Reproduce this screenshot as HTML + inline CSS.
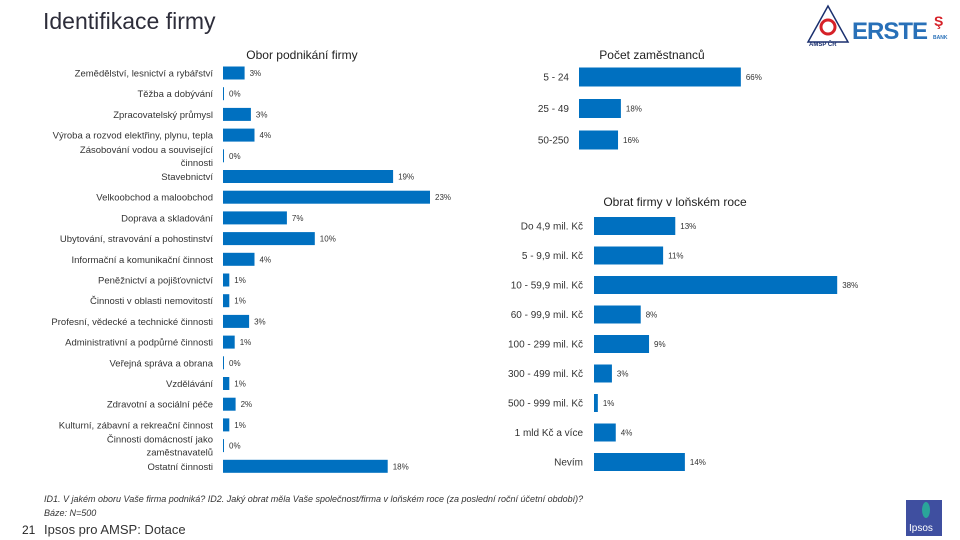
<!DOCTYPE html>
<html><head><meta charset="utf-8"><style>
body{margin:0;background:#fff;width:960px;height:540px;overflow:hidden;font-family:"Liberation Sans",sans-serif}
svg{position:absolute;left:0;top:0}
</style></head><body>
<svg id="s" width="960" height="540" xmlns="http://www.w3.org/2000/svg">
<text x="43" y="29" font-size="23" fill="#2d2d3a">Identifikace firmy</text>
<g>
<polygon points="828,6 808,42 848,42" fill="none" stroke="#1a2f6e" stroke-width="1.5"/>
<circle cx="828" cy="27" r="7" fill="none" stroke="#d62128" stroke-width="3"/>
<text x="809" y="46" font-size="6" font-weight="bold" fill="#1a2f6e">AMSP ČR</text>
<text x="852" y="39" font-size="24" font-weight="bold" fill="#2870b8" letter-spacing="-1">ERSTE</text>
<text x="934" y="26" font-size="14" font-weight="bold" fill="#d62128">Ş</text>
<text x="933" y="39" font-size="5" font-weight="bold" fill="#2870b8">BANK</text>
</g>
<text x="302" y="59" font-size="12" text-anchor="middle" fill="#222">Obor podnikání firmy</text>
<text x="652" y="59" font-size="12" text-anchor="middle" fill="#222">Počet zaměstnanců</text>
<text x="675" y="206" font-size="12" text-anchor="middle" fill="#222">Obrat firmy v loňském roce</text>
<g id="c1"></g>
<g id="c2"></g>
<g id="c3"></g>
<text x="44" y="502" font-size="9" font-style="italic" fill="#333">ID1. V jakém oboru Vaše firma podniká? ID2. Jaký obrat měla Vaše společnost/firma v loňském roce (za poslední roční účetní období)?</text>
<text x="44" y="516" font-size="9" font-style="italic" fill="#333">Báze: N=500</text>
<text x="22" y="534" font-size="12" fill="#222">21</text>
<text x="44" y="534" font-size="13" fill="#333">Ipsos pro AMSP: Dotace</text>
<g>
<rect x="906" y="500" width="36" height="36" fill="#3f4fa0"/>
<ellipse cx="926" cy="510" rx="4" ry="8" fill="#2aa59a"/>
<text x="909" y="531" font-size="10" fill="#fff">Ipsos</text>
</g>
</svg>
<script>
const oborCats=["Zemědělství, lesnictví a rybářství","Těžba a dobývání","Zpracovatelský průmysl","Výroba a rozvod elektřiny, plynu, tepla","Zásobování vodou a související|činnosti","Stavebnictví","Velkoobchod a maloobchod","Doprava a skladování","Ubytování, stravování a pohostinství","Informační a komunikační činnost","Peněžnictví a pojišťovnictví","Činnosti v oblasti nemovitostí","Profesní, vědecké a technické činnosti","Administrativní a podpůrné činnosti","Veřejná správa a obrana","Vzdělávání","Zdravotní a sociální péče","Kulturní, zábavní a rekreační činnost","Činnosti domácností jako|zaměstnavatelů","Ostatní činnosti"];
const oborVals=[2.4,0,3.1,3.5,0,18.9,23,7.1,10.2,3.5,0.7,0.7,2.9,1.3,0,0.7,1.4,0.7,0,18.3];
const oborLabels=["3%","0%","3%","4%","0%","19%","23%","7%","10%","4%","1%","1%","3%","1%","0%","1%","2%","1%","0%","18%"];
const pocetCats=["5 - 24","25 - 49","50-250"];
const pocetVals=[68,17.6,16.4];
const pocetLabels=["66%","18%","16%"];
const obratCats=["Do 4,9 mil. Kč","5 - 9,9 mil. Kč","10 - 59,9 mil. Kč","60 - 99,9 mil. Kč","100 - 299 mil. Kč","300 - 499 mil. Kč","500 - 999 mil. Kč","1 mld Kč a více","Nevím"];
const obratVals=[12.7,10.8,38,7.3,8.6,2.8,0.6,3.4,14.2];
const obratLabels=["13%","11%","38%","8%","9%","3%","1%","4%","14%"];
const NS="http://www.w3.org/2000/svg";
function mk(tag,attrs,parent,txt){const e=document.createElementNS(NS,tag);for(const k in attrs)e.setAttribute(k,attrs[k]);if(txt!==undefined)e.textContent=txt;parent.appendChild(e);return e;}
function draw(g,cats,vals,labels,o){
  const xs=v=>o.x0+v*o.k;
  const ys=i=>o.y0+i*o.step;
  cats.forEach((c,i)=>{
    const cy=ys(i);
    const lines=c.split("|");
    lines.forEach((ln,j)=>{
      const t=mk("text",{x:o.lx,y:cy+3.5+(j-(lines.length-1)/2)*13,"font-size":o.fs,"text-anchor":"end",fill:"#333"},g,ln);
      
      
    });
    const w=Math.max(xs(vals[i])-o.x0,1);
    const r=mk("rect",{x:o.x0,y:cy-o.bh/2,width:w,height:o.bh,fill:"#0070c0"},g);
    
    
    const vl=mk("text",{x:o.x0+w+5,y:cy+3,"font-size":8,fill:"#333"},g,labels[i]);
    
    
  });
}
draw(document.getElementById("c1"),oborCats,oborVals,oborLabels,{x0:223,k:9,y0:73,step:20.7,bh:13,lx:213,fs:9.5});
draw(document.getElementById("c2"),pocetCats,pocetVals,pocetLabels,{x0:579,k:2.38,y0:77,step:31.5,bh:19,lx:569,fs:10});
draw(document.getElementById("c3"),obratCats,obratVals,obratLabels,{x0:594,k:6.4,y0:226,step:29.5,bh:18,lx:583,fs:10});
</script>
</body></html>
